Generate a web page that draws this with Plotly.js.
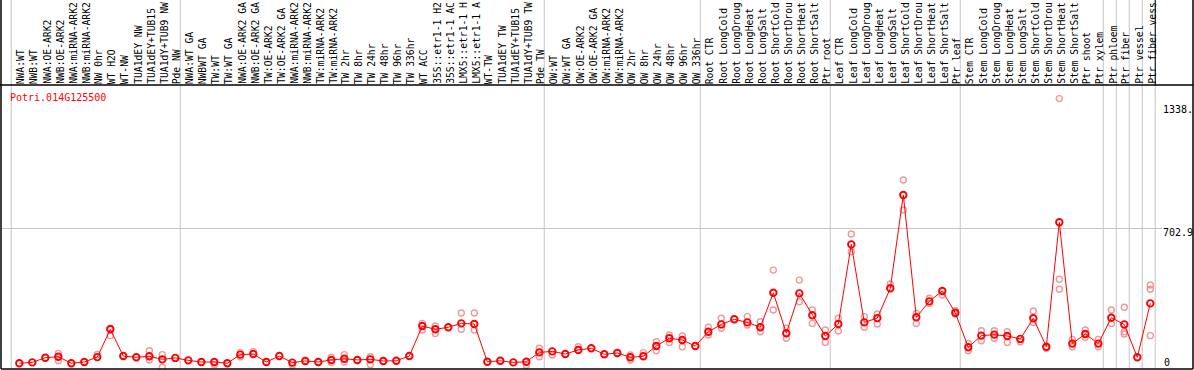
<!DOCTYPE html>
<html>
<head>
<meta charset="utf-8">
<script src="https://cdn.plot.ly/plotly-3.0.1.min.js"></script>
<style>
html,body{margin:0;padding:0;overflow:hidden;background:#fff;}
#chart{width:1194px;height:370px;}
</style>
</head>
<body>
<div id="chart"></div>
<script>
const geneName = "Potri.014G125500";

const labels = [
  "NWA:WT","NWB:WT","NWA:OE-ARK2","NWB:OE-ARK2","NWA:miRNA-ARK2","NWB:miRNA-ARK2","NW 0hr","WT H2O","WT-NW","TUA1dEY NW","TUA1dEY+TUB15","TUA1dY+TUB9 NW","Pde NW",
  "NWA:WT GA","NWBWT GA","TW:WT","TW:WT GA","NWA:OE-ARK2 GA","NWB:OE-ARK2 GA","TW:OE-ARK2","TW:OE-ARK2 GA","NWA:miRNA-ARK2","NWB:miRNA-ARK2","TW:miRNA-ARK2","TW:miRNA-ARK2",
  "TW 2hr","TW 8hr","TW 24hr","TW 48hr","TW 96hr","TW 336hr","WT ACC","35S::etr1-1 H2","35S::etr1-1 AC","LMX5::etr1-1 H","LMX5::etr1-1 A","WT-TW","TUA1dEY TW","TUA1dEY+TUB15","TUA1dY+TUB9 TW","Pde TW",
  "OW:WT","OW:WT GA","OW:OE-ARK2","OW:OE-ARK2 GA","OW:miRNA-ARK2","OW:miRNA-ARK2","OW 2hr","OW 8hr","OW 24hr","OW 48hr","OW 96hr","OW 336hr",
  "Root CTR","Root LongCold","Root LongDroug","Root LongHeat","Root LongSalt","Root ShortCold","Root ShortDrou","Root ShortHeat","Root ShortSalt","Ptr root",
  "Leaf CTR","Leaf LongCold","Leaf LongDroug","Leaf LongHeat","Leaf LongSalt","Leaf ShortCold","Leaf ShortDrou","Leaf ShortHeat","Leaf ShortSalt","Ptr leaf",
  "Stem CTR","Stem LongCold","Stem LongDroug","Stem LongHeat","Stem LongSalt","Stem ShortCold","Stem ShortDrou","Stem ShortHeat","Stem ShortSalt","Ptr shoot","Ptr xylem",
  "Ptr phloem","Ptr fiber","Ptr vessel","Ptr fiber vess"
];

const groupSizes = [13, 28, 12, 10, 10, 11, 1, 1, 1, 1];

const meanValues = [
  43,47,70,75,43,49,73,209,78,72,
  77,62,69,57,49,49,43,85,88,49,
  78,46,54,49,59,65,59,62,54,55,
  78,225,209,219,238,235,50,55,47,50,
  96,101,88,108,116,87,93,72,77,127,
  165,157,127,197,233,258,243,219,388,190,
  385,278,176,235,625,243,264,410,867,268,
  346,397,290,121,178,183,176,162,263,124,
  733,139,186,139,266,233,72,336
];

const replicates = [
  [],[],[],[91,55],[],[],[86],[214,178],[],[],
  [104,59],[85,23],[],[],[],[36],[],[95,75],[100],[],
  [],[33],[],[],[72,46],[85,49],[],[75,37],[],[],
  [],[238,206],[225,189],[],[289,209],[289,206],[],[],[],[33],
  [116,75],[83],[],[124],[],[],[],[83,59],[95],[148,104],
  [181,145],[176,124],[],[219,181],[263,214],[],[271,230],[246,197],[499,304],[165,214],
  [450,344],[304,238],[206,145],[263,201],[676,589],[271,219],[284,235],[431],[940,793],[287,238],
  [361,336],[377],[300,284],[140,104],[202,153],[202,165],[197,145],[148],[299,242],[116],
  [1338.86,454,405],[160,124],[206,170],[160,124],[304,238],[317,197,186],[],[426,405,178]
];

const yTicks = ["1338.", "702.9", "0"];

// ---- build traces ----
const xIdx = labels.map((_, i) => i);
const repX = [], repY = [];
replicates.forEach((arr, i) => arr.forEach(v => { repX.push(i); repY.push(v); }));

const traces = [
  {
    type: "scatter", mode: "markers", x: repX, y: repY,
    marker: {symbol: "circle-open", size: 6, color: "rgba(232,120,120,0.75)", line: {width: 1.4}},
    hoverinfo: "y", showlegend: false
  },
  {
    type: "scatter", mode: "lines+markers", x: xIdx, y: meanValues,
    line: {color: "#ff0000", width: 1},
    marker: {symbol: "circle-open", size: 6.5, color: "#ff0000", line: {width: 1.9}},
    hoverinfo: "x+y", showlegend: false
  }
];

// ---- geometry helpers (pixel-based layout) ----
const W = 1194, H = 370, mL = 1, mR = 1, mT = 85, mB = 1;
const plotW = W - mL - mR, plotH = H - mT - mB;
const pxPerCat = 13, firstCatPx = 19.3;
const x0 = -(firstCatPx - mL) / pxPerCat;
const x1 = x0 + plotW / pxPerCat;
const yTopPaper = 1 + mT / plotH;
const px2paperX = px => (px - mL) / plotW;
const py2paperY = py => (H - mB - py) / plotH;

const shapes = [];
let b = 0;
const bounds = [0];
groupSizes.forEach(s => { b += s; bounds.push(b); });
bounds.forEach(k => {
  shapes.push({type: "line", xref: "x", yref: "paper", x0: k - 0.62, x1: k - 0.62, y0: 0, y1: yTopPaper,
    line: {color: "#c4c4c4", width: 1}, layer: "below"});
});
const lastB = bounds[bounds.length - 1] - 0.62;
shapes.push({type: "line", xref: "x", yref: "paper", x0: lastB, x1: lastB, y0: 1, y1: yTopPaper,
  line: {color: "#000", width: 1}});
shapes.push({type: "line", xref: "paper", yref: "y", x0: 0, x1: px2paperX(1162), y0: 702.9, y1: 702.9,
  line: {color: "#c4c4c4", width: 1}, layer: "below"});
shapes.push({type: "line", xref: "paper", yref: "paper", x0: -0.001, x1: 1, y0: 1, y1: 1, line: {color: "#000", width: 1.5}});
shapes.push({type: "line", xref: "paper", yref: "paper", x0: 0, x1: 0, y0: 0, y1: yTopPaper, line: {color: "#000", width: 1.5}});
shapes.push({type: "line", xref: "paper", yref: "paper", x0: 1, x1: 1, y0: 0, y1: yTopPaper, line: {color: "#000", width: 1.5}});
shapes.push({type: "line", xref: "paper", yref: "paper", x0: 0, x1: 1, y0: 0, y1: 0, line: {color: "#000", width: 1.5}});

const mono = "DejaVu Sans Mono, monospace";
const annotations = labels.map((t, i) => ({
  x: i, xref: "x", y: 1, yref: "paper", text: t, showarrow: false,
  textangle: -90, xanchor: "center", yanchor: "bottom", xshift: 1.5, yshift: 1,
  borderpad: 0, borderwidth: 0,
  font: {family: mono, size: 9.7, color: "#000"}, align: "left"
}));
annotations.push({x: px2paperX(8), xref: "paper", y: py2paperY(97), yref: "paper", text: geneName,
  showarrow: false, xanchor: "left", yanchor: "middle", font: {family: mono, size: 10, color: "#ff0000"}});
const tickPos = [[109, 1162], [232.5, 1162], [362.3, 1163]];
yTicks.forEach((t, k) => annotations.push({
  x: px2paperX(tickPos[k][1]), xref: "paper", y: py2paperY(tickPos[k][0]), yref: "paper", text: t,
  showarrow: false, xanchor: "left", yanchor: "middle", borderpad: 0,
  font: {family: mono, size: 10, color: "#000"}
}));

const layout = {
  width: W, height: H,
  margin: {l: mL, r: mR, t: mT, b: mB, pad: 0},
  paper_bgcolor: "#fff", plot_bgcolor: "#fff",
  xaxis: {range: [x0, x1], showgrid: false, zeroline: false, showticklabels: false, ticks: "", fixedrange: true},
  yaxis: {range: [14.7, 1405.5], showgrid: false, zeroline: false, showticklabels: false, ticks: "", fixedrange: true},
  shapes: shapes, annotations: annotations, showlegend: false
};

Plotly.newPlot("chart", traces, layout, {displayModeBar: false, staticPlot: true});
</script>
</body>
</html>
